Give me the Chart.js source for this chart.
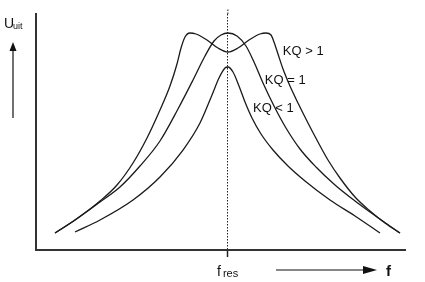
<!DOCTYPE html>
<html>
<head>
<meta charset="utf-8">
<script src="https://cdn.jsdelivr.net/npm/chart.js@4"></script>
<style>
  html, body { margin: 0; padding: 0; background: #fff; }
  #wrap { width: 425px; height: 282px; }
</style>
</head>
<body>
<div id="wrap"><canvas id="resonantie" width="425" height="282"></canvas></div>
<script>
// frequentie (relatief, 0..100) en uitgangsspanning (relatief, 0..100)
const fres = 52;

const kqGrootX = [5.15, 10.57, 17.34, 21.95, 26.29, 30.08, 33.60, 36.31, 38.21, 39.30, 40.38, 41.73, 43.36, 46.34, 49.32, 52.03, 54.74, 57.72, 60.70, 62.33, 63.69, 64.50, 65.58, 66.94, 68.83, 71.00, 73.71, 76.42, 79.13, 82.38, 86.45, 90.51, 94.58, 98.64];
const kqGrootY = [7.20, 12.71, 20.76, 27.54, 36.86, 47.46, 59.32, 69.49, 78.81, 85.59, 90.25, 91.95, 91.53, 88.98, 85.59, 83.90, 85.59, 88.98, 91.53, 91.95, 91.10, 88.14, 83.05, 76.69, 69.49, 62.29, 53.81, 45.76, 38.14, 30.51, 22.46, 16.53, 11.44, 7.20];

const kqEenX = [5.15, 10.57, 17.34, 22.76, 28.18, 33.60, 38.48, 42.55, 45.80, 48.24, 50.14, 52.03, 54.47, 56.91, 59.08, 61.52, 64.50, 67.75, 71.54, 75.88, 81.03, 86.45, 92.41, 98.64];
const kqEenY = [7.20, 12.71, 20.34, 26.69, 35.59, 46.19, 59.75, 72.03, 82.20, 88.56, 91.10, 91.95, 90.68, 86.44, 79.66, 70.76, 61.02, 51.69, 42.80, 35.17, 27.54, 20.76, 13.98, 7.20];

const kqKleinX = [10.57, 17.34, 26.29, 33.60, 39.84, 44.44, 47.70, 49.59, 51.22, 52.03, 53.39, 55.01, 56.64, 58.54, 60.98, 64.23, 68.29, 72.90, 79.67, 86.45, 93.22];
const kqKleinY = [7.63, 12.71, 21.19, 30.93, 42.37, 53.81, 65.68, 72.88, 77.12, 77.54, 75.42, 69.49, 62.71, 55.93, 49.15, 42.37, 35.59, 29.24, 21.19, 14.41, 7.20];

// labels bij de krommen (positie in data-eenheden)
const labelTeksten = ['KQ > 1', 'KQ = 1', 'KQ < 1'];
const labelX = [66.9, 62.0, 58.8];
const labelY = [84.0, 72.0, 60.0];

function punten(xs, ys) {
    return xs.map((x, i) => ({ x: x, y: ys[i] }));
}

function lijn(label, xs, ys) {
    return {
        label: label,
        data: punten(xs, ys),
        borderColor: '#1a1a1a',
        borderWidth: 1.3,
        pointRadius: 0,
        fill: false,
        cubicInterpolationMode: 'monotone'
    };
}

// teksten en pijlen rond de grafiek
const tekstPlugin = {
    id: 'teksten',
    afterDatasetsDraw(chart) {
        const ctx = chart.ctx;
        const xs = chart.scales.x;
        const ys = chart.scales.y;
        ctx.save();
        ctx.fillStyle = '#111';
        ctx.strokeStyle = '#111';
        ctx.textBaseline = 'middle';

        // KQ labels
        ctx.font = '13px "Liberation Sans", Arial, sans-serif';
        labelTeksten.forEach((t, i) => {
            ctx.fillText(t, xs.getPixelForValue(labelX[i]), ys.getPixelForValue(labelY[i]));
        });

        // stippellijn iets boven de grafiek door laten lopen
        const px = xs.getPixelForValue(fres);
        ctx.lineWidth = 1;
        ctx.setLineDash([1.5, 1.5]);
        ctx.beginPath();
        ctx.moveTo(px, chart.chartArea.top);
        ctx.lineTo(px, chart.chartArea.top - 6);
        ctx.stroke();
        ctx.setLineDash([]);

        // U_uit
        ctx.textBaseline = 'alphabetic';
        ctx.font = '14px "Liberation Sans", Arial, sans-serif';
        ctx.fillText('U', 4, 28);
        ctx.font = '9px "Liberation Sans", Arial, sans-serif';
        ctx.fillText('uit', 13, 29);

        // pijl omhoog
        ctx.lineWidth = 1.2;
        ctx.beginPath();
        ctx.moveTo(13, 118);
        ctx.lineTo(13, 50);
        ctx.stroke();
        ctx.beginPath();
        ctx.moveTo(13, 42);
        ctx.lineTo(9.5, 51);
        ctx.lineTo(16.5, 51);
        ctx.closePath();
        ctx.fill();

        // f_res
        ctx.font = '14px "Liberation Sans", Arial, sans-serif';
        ctx.fillText('f', px - 11, 276);
        ctx.font = '11px "Liberation Sans", Arial, sans-serif';
        ctx.fillText('res', px - 5, 277);

        // pijl naar rechts
        ctx.beginPath();
        ctx.moveTo(276, 270);
        ctx.lineTo(366, 270);
        ctx.stroke();
        ctx.beginPath();
        ctx.moveTo(377, 270);
        ctx.lineTo(363, 266);
        ctx.lineTo(363, 274);
        ctx.closePath();
        ctx.fill();

        ctx.font = 'bold 15px "Liberation Sans", Arial, sans-serif';
        ctx.fillText('f', 386, 276);
        ctx.restore();
    }
};

const ctx = document.getElementById('resonantie').getContext('2d');
const grafiek = new Chart(ctx, {
    type: 'line',
    data: {
        datasets: [
            lijn('KQ > 1', kqGrootX, kqGrootY),
            lijn('KQ = 1', kqEenX, kqEenY),
            lijn('KQ < 1', kqKleinX, kqKleinY)
        ]
    },
    options: {
        responsive: false,
        animation: false,
        layout: { padding: { left: 36, right: 20, top: 14, bottom: 25 } },
        plugins: {
            legend: { display: false },
            tooltip: { enabled: false }
        },
        scales: {
            x: {
                type: 'linear',
                min: 0,
                max: 100,
                afterBuildTicks: axis => { axis.ticks = [{ value: fres }]; },
                ticks: { display: false },
                grid: {
                    display: true,
                    color: '#222',
                    lineWidth: 1,
                    drawTicks: true,
                    tickLength: 7,
                    tickColor: '#222',
                    tickWidth: 1.5,
                    tickBorderDash: []
                },
                border: { display: true, color: '#333', width: 2, dash: [1.5, 1.5] }
            },
            y: {
                type: 'linear',
                min: 0,
                max: 100,
                ticks: { display: false },
                grid: { display: false, drawTicks: false },
                border: { display: true, color: '#333', width: 2 }
            }
        }
    },
    plugins: [tekstPlugin]
});
</script>
</body>
</html>
